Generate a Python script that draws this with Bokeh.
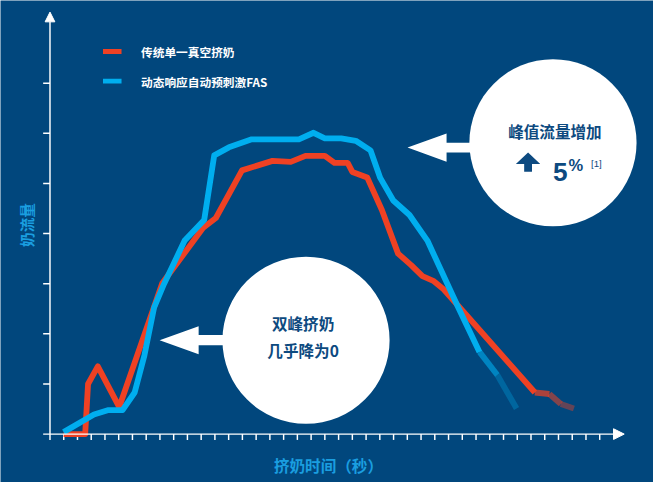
import math
from bokeh.plotting import figure
from bokeh.models import Arrow, NormalHead
from bokeh.core.properties import value
from bokeh.embed import file_html
from bokeh.resources import INLINE

# ---------------- data ----------------
# time (tick index) and milk flow (tick units)
conv_x = [0.99, 2.56, 2.77, 3.48, 5.04, 8.17, 11.13, 12.07, 13.97, 16.19, 17.52, 18.59, 20.0,
          20.7, 21.66, 22.0, 23.08, 24.15, 25.33, 26.28, 27.1, 27.93, 28.64, 35.28, 36.34, 37.17, 38.12]
conv_y = [0.0, 0.0, 1.0, 1.35, 0.54, 3.01, 4.11, 4.31, 5.26, 5.45, 5.43, 5.55, 5.55,
          5.41, 5.41, 5.23, 5.12, 4.47, 3.6, 3.37, 3.15, 3.05, 2.89, 0.83, 0.80, 0.60, 0.51]
fas_x = [0.99, 3.2, 4.26, 5.28, 6.16, 6.87, 7.58, 8.29, 9.8, 11.22, 11.95, 13.02, 14.68, 18.11,
         19.18, 20.0, 21.19, 22.25, 23.32, 24.03, 24.98, 26.16, 27.46, 29.7, 31.25, 32.55, 33.95]
fas_y = [0.04, 0.39, 0.48, 0.48, 0.83, 1.57, 2.53, 2.99, 3.86, 4.27, 5.56, 5.72, 5.88, 5.88,
         6.01, 5.90, 5.90, 5.85, 5.66, 5.11, 4.66, 4.37, 3.86, 2.53, 1.64, 1.18, 0.51]
series_names = ["传统单一真空挤奶", "动态响应自动预刺激FAS"]
x_ticks = list(range(0, 41))
y_ticks = list(range(0, 8))
x_label = "挤奶时间（秒）"
y_label = "奶流量"
callout_right = ["峰值流量增加", "5", "%", "[1]"]
callout_left = ["双峰挤奶", "几乎降为0"]

# ---------------- style ----------------
BG = "#01477d"
NAVY = "#0d4a80"
RED = "#ef4123"
BLUE = "#00aeef"
LBL = "#1a9ee0"
CJK = value("Noto Sans CJK SC")
LAT = value("Liberation Sans")

W, H = 653, 482
REF_W, REF_H = 669, 498
S = (W / REF_W + H / REF_H) / 2          # pixel-size scale vs. reference
def px(v): return v * S
def fs(v): return f"{v * S:.1f}px"

# reference-pixel -> data helpers (decorations only)
PX0, PXU, PY0, PYU = 50.7, 14.08, 448.0, 51.8
def dx(v): return (v - PX0) / PXU
def dy(v): return (PY0 - v) / PYU

p = figure(width=W, height=H, x_range=(dx(0), dx(REF_W)), y_range=(dy(REF_H), dy(0)),
           output_backend="svg", toolbar_location=None, min_border=0,
           background_fill_color=BG, border_fill_color=BG, outline_line_color=None)
p.grid.visible = False
p.axis.visible = False

# ---------------- axes ----------------
tick_x_len = 6 / PYU
tick_y_len = 7 / PXU
p.segment(x0=x_ticks, y0=[0] * len(x_ticks), x1=x_ticks, y1=[-tick_x_len] * len(x_ticks),
          line_color="white", line_width=px(1.5))
p.segment(x0=[0] * len(y_ticks), y0=y_ticks, x1=[-tick_y_len] * len(y_ticks), y1=y_ticks,
          line_color="white", line_width=px(1.5))
p.add_layout(Arrow(x_start=0, y_start=0, x_end=dx(639), y_end=0, line_color="white", line_width=px(1.5),
                   end=NormalHead(size=px(11), fill_color="white", line_color="white")))
p.add_layout(Arrow(x_start=0, y_start=0, x_end=0, y_end=dy(12), line_color="white", line_width=px(1.5),
                   end=NormalHead(size=px(10), fill_color="white", line_color="white")))

p.text(x=[dx(336)], y=[dy(480)], text=[x_label], text_font=CJK, text_font_style="bold",
       text_font_size=fs(16), text_color=LBL, text_align="center", text_baseline="middle")
p.text(x=[dx(27)], y=[dy(232)], text=[y_label], text_font=CJK, text_font_style="bold",
       text_font_size=fs(15), text_color=LBL, text_align="center", text_baseline="middle",
       angle=math.pi / 2)

# ---------------- lines ----------------
def draw_series(xs, ys, color, k, alphas):
    p.line(xs[:k + 1], ys[:k + 1], line_color=color, line_width=px(6), line_join="round")
    p.segment(x0=xs[k:-1], y0=ys[k:-1], x1=xs[k + 1:], y1=ys[k + 1:],
              line_color=color, line_width=px(6), line_alpha=alphas, line_cap="butt")

draw_series(conv_x, conv_y, RED, len(conv_x) - 4, [0.72, 0.55, 0.42])
draw_series(fas_x, fas_y, BLUE, len(fas_x) - 3, [0.6, 0.3])

# legend
for i, (name, col) in enumerate(zip(series_names, [RED, BLUE])):
    yy = dy(52.7 + 30.6 * i)
    p.line([dx(105), dx(124)], [yy, yy], line_color=col, line_width=px(5))
    p.text(x=[dx(144)], y=[yy], text=[name], text_font=CJK, text_font_style="bold",
           text_font_size=fs(12), text_color="white", text_baseline="middle", text_align="left")

# ---------------- callouts ----------------
def block_arrow(tip_x, tip_y, base_x, tail_x, head_h, shaft_h):
    xs = [tip_x, base_x, base_x, tail_x, tail_x, base_x, base_x]
    ys = [tip_y, tip_y - head_h, tip_y - shaft_h, tip_y - shaft_h, tip_y + shaft_h, tip_y + shaft_h, tip_y + head_h]
    p.patch([dx(v) for v in xs], [dy(v) for v in ys], fill_color="white", line_color=None)

block_arrow(417, 152, 457, 500, 14.7, 5)
block_arrow(163, 351, 203, 250, 14.5, 5.3)

p.scatter([dx(566)], [dy(147)], marker="circle", size=px(172), fill_color="white", line_color=None)
p.scatter([dx(313)], [dy(351)], marker="circle", size=px(172), fill_color="white", line_color=None)

# up arrow icon
ux, uy = 540.5, 157
p.patch([dx(v) for v in [ux, ux + 12.5, ux + 4, ux + 4, ux - 4, ux - 4, ux - 12.5]],
        [dy(v) for v in [uy, uy + 12, uy + 12, uy + 20, uy + 20, uy + 12, uy + 12]],
        fill_color=NAVY, line_color=None)

p.text(x=[dx(568)], y=[dy(135)], text=[callout_right[0]], text_font=CJK, text_font_style="bold",
       text_font_size=fs(16), text_color=NAVY, text_align="center", text_baseline="middle")
p.text(x=[dx(566)], y=[dy(177)], text=[callout_right[1]], text_font=LAT, text_font_style="bold",
       text_font_size=fs(27), text_color=NAVY, text_align="left", text_baseline="alphabetic")
p.text(x=[dx(582)], y=[dy(170)], text=[callout_right[2]], text_font=LAT, text_font_style="bold",
       text_font_size=fs(17), text_color=NAVY, text_align="left", text_baseline="alphabetic")
p.text(x=[dx(605)], y=[dy(168)], text=[callout_right[3]], text_font=LAT,
       text_font_size=fs(10), text_color=NAVY, text_align="left", text_baseline="alphabetic")

for i, t in enumerate(callout_left):
    p.text(x=[dx(310)], y=[dy(333 + 28.5 * i)], text=[t], text_font=CJK, text_font_style="bold",
           text_font_size=fs(16), text_color=NAVY, text_align="center", text_baseline="middle")

open("out.html", "w").write(file_html(p, INLINE))
